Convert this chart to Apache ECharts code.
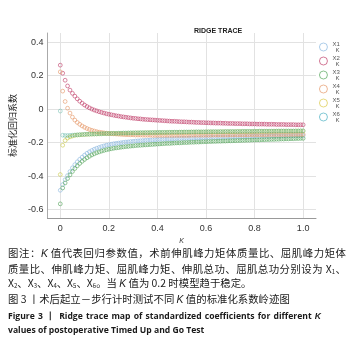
<!DOCTYPE html>
<html>
<head>
<meta charset="utf-8">
<script src="https://cdn.jsdelivr.net/npm/echarts@6/dist/echarts.min.js"></script>
<style>
  html, body { margin: 0; padding: 0; background: #fff; }
  #wrap { position: relative; width: 354px; height: 353px; overflow: hidden; }
  #ridge { position: absolute; left: 0; top: 0; width: 354px; height: 250px; }
  #caption {
    position: absolute; left: 8px; top: 246px; width: 338px;
    font-family: "Noto Sans CJK SC", sans-serif; font-size: 10.4px; line-height: 14.7px; color: #1a1a1a;
  }
  #caption div { white-space: nowrap; }
  #caption .full { text-align: justify; text-align-last: justify; white-space: normal; }
  #caption sub { font-size: 6px; vertical-align: -1px; line-height: 0; }
  #caption .en { font-family: "Open Sans", sans-serif; font-weight: bold; font-size: 8.6px; line-height: 14px; }
  #caption i { font-family: "Liberation Sans", sans-serif; }
</style>
</head>
<body>
<div id="wrap">
  <div id="ridge"></div>
  <div id="caption">
    <div class="full">图注：<i>K</i> 值代表回归参数值，术前伸肌峰力矩体质量比、屈肌峰力矩体</div>
    <div class="full">质量比、伸肌峰力矩、屈肌峰力矩、伸肌总功、屈肌总功分别设为 X<sub>1</sub>、</div>
    <div>X<sub>2</sub>、X<sub>3</sub>、X<sub>4</sub>、X<sub>5</sub>、X<sub>6</sub>。当 <i>K</i> 值为 0.2 时模型趋于稳定。</div>
    <div style="margin-bottom:1px">图 3 丨术后起立－步行计时测试不同 <i>K</i> 值的标准化系数岭迹图</div>
    <div class="en" style="width:313px;text-align:justify;text-align-last:justify;">Figure 3 丨 Ridge trace map of standardized coefficients for different <i>K</i></div>
    <div class="en">values of postoperative Timed Up and Go Test</div>
  </div>
</div>
<script>
const kValues = [
  0, 0.01, 0.02, 0.03, 0.04, 0.05, 0.06, 0.07, 0.08, 0.09,
  0.1, 0.11, 0.12, 0.13, 0.14, 0.15, 0.16, 0.17, 0.18, 0.19,
  0.2, 0.21, 0.22, 0.23, 0.24, 0.25, 0.26, 0.27, 0.28, 0.29,
  0.3, 0.31, 0.32, 0.33, 0.34, 0.35, 0.36, 0.37, 0.38, 0.39,
  0.4, 0.41, 0.42, 0.43, 0.44, 0.45, 0.46, 0.47, 0.48, 0.49,
  0.5, 0.51, 0.52, 0.53, 0.54, 0.55, 0.56, 0.57, 0.58, 0.59,
  0.6, 0.61, 0.62, 0.63, 0.64, 0.65, 0.66, 0.67, 0.68, 0.69,
  0.7, 0.71, 0.72, 0.73, 0.74, 0.75, 0.76, 0.77, 0.78, 0.79,
  0.8, 0.81, 0.82, 0.83, 0.84, 0.85, 0.86, 0.87, 0.88, 0.89,
  0.9, 0.91, 0.92, 0.93, 0.94, 0.95, 0.96, 0.97, 0.98, 0.99,
  1
];

// standardized coefficients, one value per K
const x1 = [
  -0.484, -0.450, -0.421, -0.396, -0.372, -0.350, -0.331, -0.314, -0.299, -0.286,
  -0.274, -0.263, -0.254, -0.246, -0.239, -0.233, -0.228, -0.223, -0.219, -0.215,
  -0.212, -0.209, -0.206, -0.204, -0.202, -0.200, -0.198, -0.196, -0.195, -0.193,
  -0.192, -0.190, -0.189, -0.188, -0.187, -0.186, -0.185, -0.184, -0.183, -0.182,
  -0.181, -0.180, -0.180, -0.179, -0.178, -0.177, -0.177, -0.176, -0.175, -0.175,
  -0.174, -0.174, -0.173, -0.173, -0.172, -0.172, -0.171, -0.171, -0.170, -0.170,
  -0.169, -0.169, -0.168, -0.168, -0.168, -0.167, -0.167, -0.166, -0.166, -0.166,
  -0.165, -0.165, -0.165, -0.164, -0.164, -0.164, -0.163, -0.163, -0.163, -0.162,
  -0.162, -0.162, -0.162, -0.161, -0.161, -0.161, -0.161, -0.160, -0.160, -0.160,
  -0.160, -0.159, -0.159, -0.159, -0.159, -0.158, -0.158, -0.158, -0.158, -0.158,
  -0.157
];
const x2 = [
  0.263, 0.215, 0.173, 0.139, 0.114, 0.095, 0.078, 0.062, 0.048, 0.036,
  0.025, 0.016, 0.008, 0.001, -0.005, -0.010, -0.015, -0.019, -0.023, -0.027,
  -0.030, -0.033, -0.036, -0.039, -0.041, -0.044, -0.046, -0.048, -0.050, -0.052,
  -0.054, -0.055, -0.057, -0.058, -0.060, -0.061, -0.062, -0.063, -0.064, -0.065,
  -0.066, -0.067, -0.068, -0.069, -0.070, -0.071, -0.072, -0.072, -0.073, -0.074,
  -0.075, -0.075, -0.076, -0.077, -0.077, -0.078, -0.079, -0.079, -0.080, -0.080,
  -0.081, -0.081, -0.082, -0.082, -0.083, -0.083, -0.083, -0.084, -0.084, -0.085,
  -0.085, -0.085, -0.086, -0.086, -0.086, -0.087, -0.087, -0.087, -0.088, -0.088,
  -0.088, -0.089, -0.089, -0.089, -0.089, -0.090, -0.090, -0.090, -0.090, -0.091,
  -0.091, -0.091, -0.091, -0.092, -0.092, -0.092, -0.092, -0.093, -0.093, -0.093,
  -0.093
];
const x3 = [
  -0.565, -0.470, -0.440, -0.414, -0.392, -0.372, -0.354, -0.338, -0.324, -0.311,
  -0.300, -0.290, -0.281, -0.273, -0.266, -0.260, -0.255, -0.250, -0.246, -0.242,
  -0.239, -0.236, -0.233, -0.231, -0.229, -0.227, -0.225, -0.223, -0.222, -0.220,
  -0.219, -0.217, -0.216, -0.215, -0.214, -0.213, -0.212, -0.211, -0.210, -0.209,
  -0.208, -0.207, -0.206, -0.205, -0.204, -0.204, -0.203, -0.202, -0.201, -0.201,
  -0.200, -0.199, -0.199, -0.198, -0.197, -0.197, -0.196, -0.196, -0.195, -0.194,
  -0.194, -0.193, -0.193, -0.192, -0.192, -0.191, -0.191, -0.190, -0.190, -0.189,
  -0.189, -0.188, -0.188, -0.187, -0.187, -0.186, -0.186, -0.185, -0.185, -0.184,
  -0.184, -0.183, -0.183, -0.182, -0.182, -0.181, -0.181, -0.180, -0.180, -0.179,
  -0.179, -0.178, -0.178, -0.177, -0.177, -0.176, -0.176, -0.175, -0.175, -0.174,
  -0.174
];
const x4 = [
  0.223, 0.108, 0.046, 0.006, -0.023, -0.047, -0.065, -0.079, -0.090, -0.100,
  -0.108, -0.115, -0.121, -0.126, -0.130, -0.134, -0.137, -0.139, -0.141, -0.143,
  -0.145, -0.146, -0.147, -0.148, -0.149, -0.150, -0.151, -0.152, -0.152, -0.153,
  -0.153, -0.154, -0.154, -0.154, -0.155, -0.155, -0.155, -0.155, -0.156, -0.156,
  -0.156, -0.156, -0.156, -0.156, -0.156, -0.156, -0.156, -0.156, -0.156, -0.156,
  -0.156, -0.156, -0.156, -0.156, -0.155, -0.155, -0.155, -0.155, -0.155, -0.155,
  -0.155, -0.155, -0.155, -0.154, -0.154, -0.154, -0.154, -0.154, -0.154, -0.154,
  -0.153, -0.153, -0.153, -0.153, -0.153, -0.153, -0.153, -0.153, -0.152, -0.152,
  -0.152, -0.152, -0.152, -0.152, -0.152, -0.152, -0.151, -0.151, -0.151, -0.151,
  -0.151, -0.151, -0.151, -0.151, -0.151, -0.150, -0.150, -0.150, -0.150, -0.150,
  -0.150
];
const x5 = [
  -0.390, -0.215, -0.187, -0.172, -0.165, -0.160, -0.156, -0.154, -0.153, -0.152,
  -0.151, -0.150, -0.149, -0.149, -0.148, -0.148, -0.147, -0.147, -0.146, -0.146,
  -0.145, -0.145, -0.144, -0.144, -0.144, -0.143, -0.143, -0.143, -0.142, -0.142,
  -0.142, -0.141, -0.141, -0.141, -0.141, -0.140, -0.140, -0.140, -0.140, -0.139,
  -0.139, -0.139, -0.139, -0.139, -0.138, -0.138, -0.138, -0.138, -0.138, -0.137,
  -0.137, -0.137, -0.137, -0.137, -0.136, -0.136, -0.136, -0.136, -0.136, -0.136,
  -0.135, -0.135, -0.135, -0.135, -0.135, -0.135, -0.134, -0.134, -0.134, -0.134,
  -0.134, -0.134, -0.134, -0.133, -0.133, -0.133, -0.133, -0.133, -0.133, -0.133,
  -0.132, -0.132, -0.132, -0.132, -0.132, -0.132, -0.132, -0.132, -0.131, -0.131,
  -0.131, -0.131, -0.131, -0.131, -0.131, -0.131, -0.131, -0.130, -0.130, -0.130,
  -0.130
];
const x6 = [
  -0.011, -0.155, -0.157, -0.157, -0.156, -0.155, -0.154, -0.153, -0.152, -0.151,
  -0.150, -0.149, -0.149, -0.148, -0.148, -0.147, -0.147, -0.146, -0.146, -0.145,
  -0.145, -0.144, -0.144, -0.144, -0.143, -0.143, -0.142, -0.142, -0.142, -0.141,
  -0.141, -0.141, -0.141, -0.140, -0.140, -0.140, -0.140, -0.139, -0.139, -0.139,
  -0.139, -0.138, -0.138, -0.138, -0.138, -0.138, -0.137, -0.137, -0.137, -0.137,
  -0.137, -0.136, -0.136, -0.136, -0.136, -0.136, -0.135, -0.135, -0.135, -0.135,
  -0.135, -0.135, -0.134, -0.134, -0.134, -0.134, -0.134, -0.134, -0.133, -0.133,
  -0.133, -0.133, -0.133, -0.133, -0.133, -0.132, -0.132, -0.132, -0.132, -0.132,
  -0.132, -0.132, -0.131, -0.131, -0.131, -0.131, -0.131, -0.131, -0.131, -0.131,
  -0.130, -0.130, -0.130, -0.130, -0.130, -0.130, -0.130, -0.130, -0.130, -0.129,
  -0.129
];

const seriesNames = ['X1', 'X2', 'X3', 'X4', 'X5', 'X6'];
const seriesValues = [x1, x2, x3, x4, x5, x6];
const colorList = ['#8db9e0', '#c2456e', '#5aa860', '#e69a6c', '#dccb4c', '#4fb3c4'];
const strokeList = [
  'rgba(141,185,224,0.95)', 'rgba(194,69,110,0.95)', 'rgba(90,168,96,0.95)',
  'rgba(230,154,108,0.95)', 'rgba(200,200,70,0.9)', 'rgba(70,170,150,0.6)'
];

const xTicks = [0, 0.2, 0.4, 0.6, 0.8, 1.0];
const yTicks = [-0.6, -0.4, -0.2, 0, 0.2, 0.4];

function tickText(v) {
  return v === 0 ? '0' : v.toFixed(1);
}

const chartDom = document.getElementById('ridge');
const myChart = echarts.init(chartDom, null, { renderer: 'canvas' });

const option = {
  animation: false,
  backgroundColor: '#fff',
  title: {
    text: 'RIDGE TRACE',
    left: 189,
    top: 23,
    textStyle: { fontSize: 7, fontWeight: 'bold', color: '#222', fontFamily: 'Liberation Sans' }
  },
  legend: {
    orient: 'vertical',
    left: 314,
    top: 36,
    itemWidth: 8,
    itemHeight: 8,
    itemGap: 2,
    data: seriesNames.map((name, idx) => ({
      name: name,
      itemStyle: { color: 'rgba(255,255,255,0)', borderColor: colorList[idx], borderWidth: 0.9 }
    })),
    formatter: (name) => '{n|' + name + '}\n{k|K}',
    textStyle: {
      fontSize: 6,
      color: '#555',
      fontFamily: 'Liberation Sans',
      rich: {
        n: { fontSize: 6, lineHeight: 6, color: '#555' },
        k: { fontSize: 6, lineHeight: 6, color: '#555', padding: [0, 0, 0, 3] }
      }
    }
  },
  grid: { left: 46, right: 38, top: 33, bottom: 23 },
  xAxis: {
    type: 'value',
    min: -0.053,
    max: 1.053,
    name: 'K',
    nameLocation: 'middle',
    nameGap: 17,
    nameTextStyle: { fontSize: 7, fontStyle: 'italic', color: '#333' },
    axisLine: { show: true, onZero: false, lineStyle: { color: '#999' } },
    axisTick: { show: false, customValues: xTicks },
    axisLabel: {
      customValues: xTicks,
      formatter: tickText,
      fontSize: 9,
      color: '#333',
      margin: 6,
      fontFamily: 'Liberation Sans'
    },
    splitLine: { show: true, lineStyle: { color: '#e2e2e2' } }
  },
  yAxis: {
    type: 'value',
    min: -0.65,
    max: 0.455,
    name: '标准化回归系数',
    nameLocation: 'middle',
    nameGap: 28,
    nameTextStyle: { fontSize: 9, color: '#222', fontFamily: 'Noto Sans CJK SC' },
    axisLine: { show: true, onZero: false, lineStyle: { color: '#aaa' } },
    axisTick: { show: false, customValues: yTicks },
    axisLabel: {
      customValues: yTicks,
      formatter: tickText,
      fontSize: 9,
      color: '#333',
      margin: 4,
      fontFamily: 'Liberation Sans'
    },
    splitLine: { show: true, lineStyle: { color: '#e2e2e2' } }
  },
  series: seriesNames.map((name, idx) => ({
    name: name,
    type: 'scatter',
    symbol: 'circle',
    symbolSize: 3.8,
    itemStyle: {
      color: 'rgba(255,255,255,0)',
      borderColor: strokeList[idx],
      borderWidth: 0.85
    },
    data: kValues.map((k, i) => [k, seriesValues[idx][i]])
  }))
};

option && myChart.setOption(option);
</script>
</body>
</html>
